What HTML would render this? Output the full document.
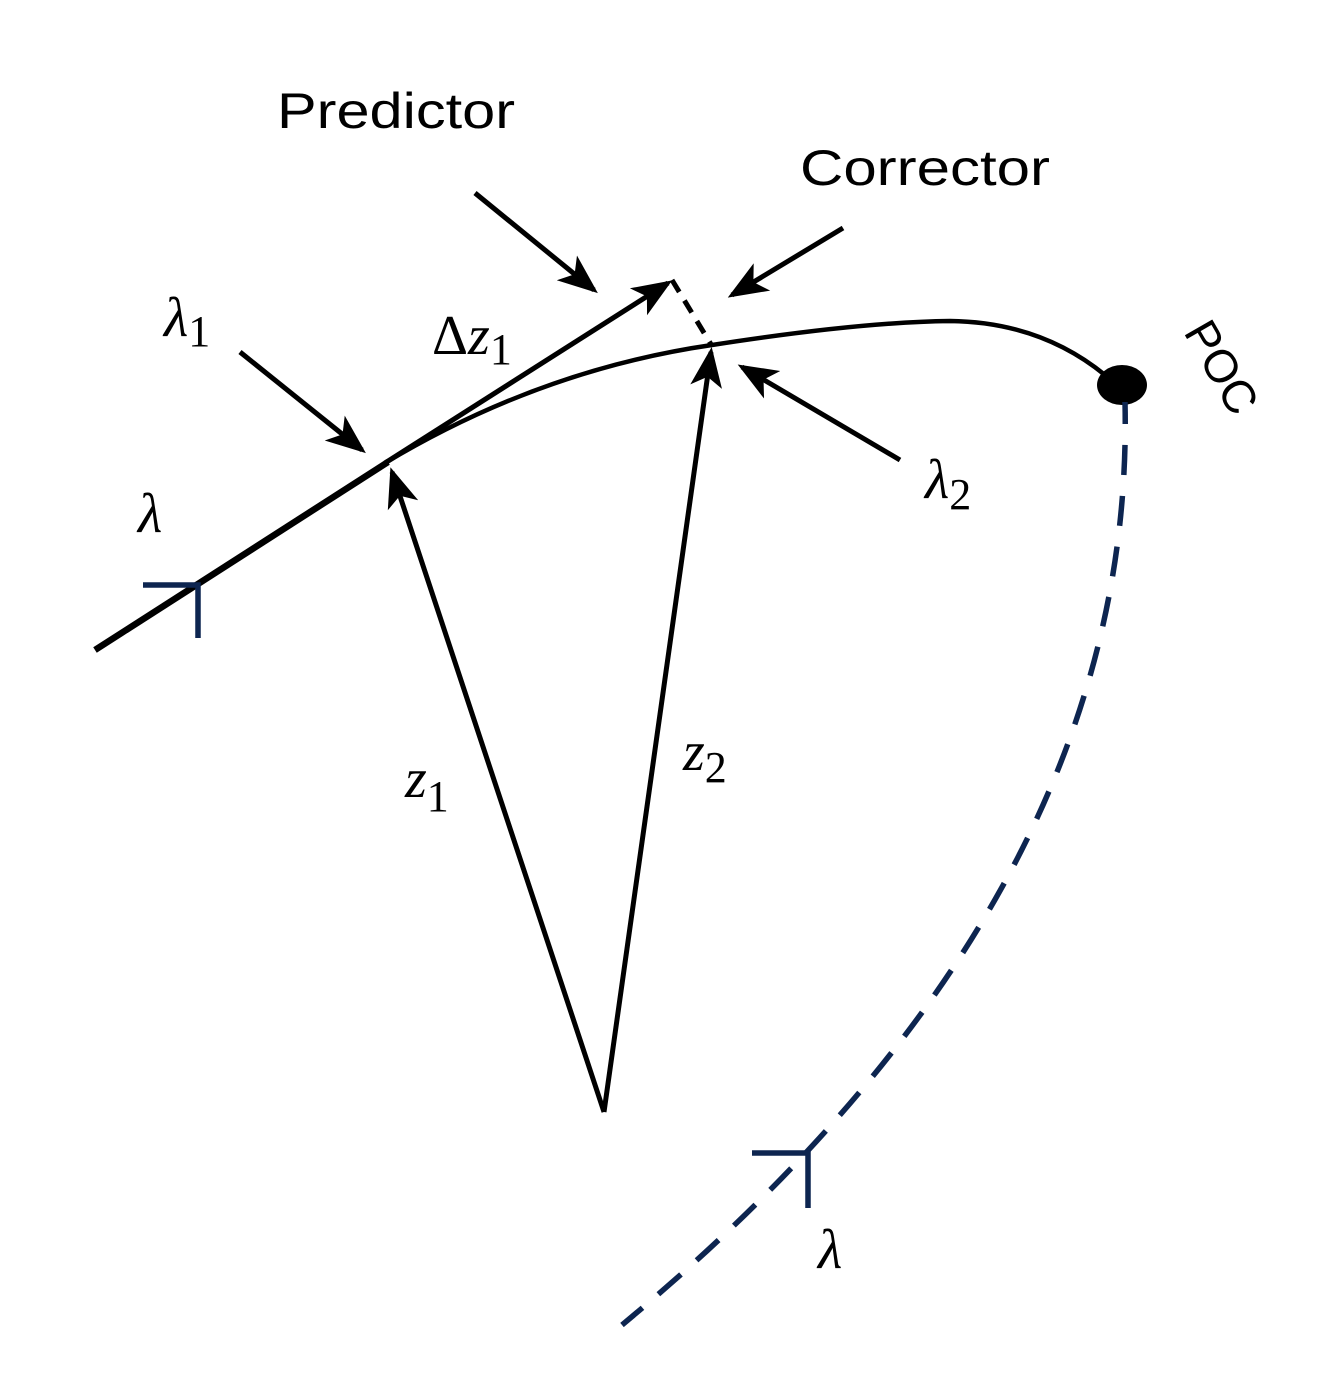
<!DOCTYPE html>
<html><head><style>html,body{margin:0;padding:0;background:#fff}svg{display:block}</style></head>
<body>
<svg width="1332" height="1374" viewBox="0 0 1332 1374" xmlns="http://www.w3.org/2000/svg">
<defs>
<marker id="ah" markerWidth="8" markerHeight="8" refX="7" refY="4" orient="auto" markerUnits="strokeWidth">
<path d="M0,0.8 L8,4 L0,7.2 L2,4 Z" fill="#000"/>
</marker>
</defs>
<g fill="none" stroke="#000" stroke-linecap="butt">
<line x1="95" y1="650" x2="388" y2="462" stroke-width="6.5"/>
<path d="M385,463 Q540,370 712,345 Q860,322 950,321 Q1040,322 1105,375" stroke-width="4.5"/>
<line x1="385" y1="463" x2="668" y2="283" stroke-width="5" marker-end="url(#ah)"/>
<line x1="672" y1="280" x2="712" y2="346" stroke-width="5" stroke-dasharray="14,10"/>
<line x1="604" y1="1112" x2="392" y2="472" stroke-width="5" marker-end="url(#ah)"/>
<line x1="604" y1="1112" x2="711" y2="352" stroke-width="5" marker-end="url(#ah)"/>
<line x1="475" y1="193" x2="594" y2="290" stroke-width="5" marker-end="url(#ah)"/>
<line x1="843" y1="228" x2="732" y2="295" stroke-width="5" marker-end="url(#ah)"/>
<line x1="240" y1="352" x2="362" y2="450" stroke-width="5" marker-end="url(#ah)"/>
<line x1="900" y1="460" x2="742" y2="367" stroke-width="5" marker-end="url(#ah)"/>
</g>
<ellipse cx="1122" cy="385" rx="25" ry="20" fill="#000"/>
<g fill="none" stroke="#0d2550" stroke-width="5.5">
<path d="M1125,402 C1132,710 990,1020 622,1325" stroke-dasharray="30,21" stroke-dashoffset="8"/>
<path d="M143,585 H198 V638"/>
<path d="M752,1153 H808 V1208"/>
</g>
<g font-family="'Liberation Sans', sans-serif" font-size="50" fill="#000">
<text x="277" y="128" textLength="238" lengthAdjust="spacingAndGlyphs">Predictor</text>
<text x="800" y="185" textLength="250" lengthAdjust="spacingAndGlyphs">Corrector</text>
<text transform="translate(1183,332) rotate(60)" font-size="46">POC</text>
</g>
<g font-family="'Liberation Serif', serif" font-style="italic" fill="#000" font-size="56">
<text x="164" y="336">λ<tspan font-style="normal" font-size="44" dy="10">1</tspan></text>
<text x="432" y="354"><tspan font-style="normal">Δ</tspan>z<tspan font-style="normal" font-size="44" dy="10">1</tspan></text>
<text x="138" y="532">λ</text>
<text x="925" y="498">λ<tspan font-style="normal" font-size="44" dy="11">2</tspan></text>
<text x="405" y="797">z<tspan font-style="normal" font-size="44" dy="14">1</tspan></text>
<text x="683" y="770">z<tspan font-style="normal" font-size="44" dy="12">2</tspan></text>
<text x="818" y="1268">λ</text>
</g>
</svg>
</body></html>
